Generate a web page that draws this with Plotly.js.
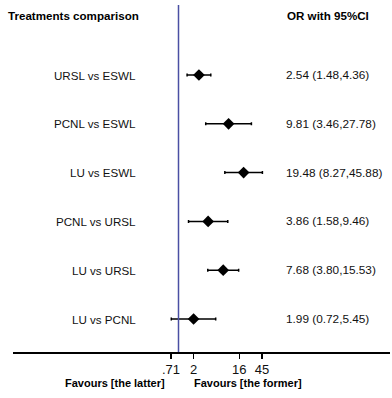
<!DOCTYPE html>
<html>
<head>
<meta charset="utf-8">
<script src="https://cdn.plot.ly/plotly-3.0.1.min.js"></script>
<style>html,body{margin:0;padding:0;background:#fff;}#chart{width:392px;height:398px;}</style>
</head>
<body>
<div id="chart"></div>
<script>
const comparisons = ["URSL vs ESWL","PCNL vs ESWL","LU vs ESWL","PCNL vs URSL","LU vs URSL","LU vs PCNL"];
const oddsRatio = [2.54, 9.81, 19.48, 3.86, 7.68, 1.99];
const ciLower = [1.48, 3.46, 8.27, 1.58, 3.80, 0.72];
const ciUpper = [4.36, 27.78, 45.88, 9.46, 15.53, 5.45];
const tickValues = [0.71, 2, 16, 45];
const tickLabels = [".71", "2", "16", "45"];

const rowPos = comparisons.map((_, i) => comparisons.length - i);
const f2 = v => v.toFixed(2);
const ciText = oddsRatio.map((v, i) => `${f2(v)} (${f2(ciLower[i])},${f2(ciUpper[i])})`);

const FONT = "Liberation Sans, Arial, sans-serif";
const ymin = 0.324, ymax = 7.435;

const trace = {
  type: "scatter", mode: "markers",
  x: oddsRatio, y: rowPos,
  marker: {symbol: "diamond", size: 9, color: "#000"},
  error_x: {
    type: "data", symmetric: false,
    array: oddsRatio.map((v, i) => ciUpper[i] - v),
    arrayminus: oddsRatio.map((v, i) => v - ciLower[i]),
    color: "#000", thickness: 1.5, width: 1.5
  },
  hoverinfo: "skip", showlegend: false
};

const annotations = [];
comparisons.forEach((c, i) => {
  annotations.push({xref: "paper", yref: "y", x: 0.3316, y: rowPos[i], text: c, showarrow: false,
    xanchor: "right", yanchor: "middle", font: {family: FONT, size: 11.6, color: "#111"}});
  annotations.push({xref: "paper", yref: "y", x: 0.7188, y: rowPos[i], text: ciText[i], showarrow: false,
    xanchor: "left", yanchor: "middle", font: {family: FONT, size: 11.8, color: "#111"}});
});
annotations.push({xref: "paper", yref: "y", x: -0.0186, y: 7.23, text: "<b>Treatments comparison</b>", showarrow: false,
  xanchor: "left", yanchor: "middle", font: {family: FONT, size: 11.6, color: "#000"}});
annotations.push({xref: "paper", yref: "y", x: 0.7215, y: 7.23, text: "<b>OR with 95%CI</b>", showarrow: false,
  xanchor: "left", yanchor: "middle", font: {family: FONT, size: 11.6, color: "#000"}});
annotations.push({xref: "paper", yref: "paper", x: (115-13)/377, y: -31/347, text: "<b>Favours [the latter]</b>", showarrow: false,
  xanchor: "center", yanchor: "middle", font: {family: FONT, size: 11, color: "#000"}});
annotations.push({xref: "paper", yref: "paper", x: (248-13)/377, y: -31/347, text: "<b>Favours [the former]</b>", showarrow: false,
  xanchor: "center", yanchor: "middle", font: {family: FONT, size: 11, color: "#000"}});

const layout = {
  width: 392, height: 398,
  margin: {l: 13, r: 2, t: 5, b: 46},
  paper_bgcolor: "#fff", plot_bgcolor: "#fff",
  xaxis: {
    type: "log", range: [-3.277, 4.188],
    tickvals: tickValues, ticktext: tickLabels,
    ticks: "outside", ticklen: 5, tickwidth: 1.2, tickcolor: "#000",
    showline: true, linecolor: "#000", linewidth: 1.5,
    showgrid: false, zeroline: false,
    tickfont: {family: FONT, size: 13, color: "#111"}
  },
  yaxis: {range: [ymin, ymax], visible: false, showgrid: false, zeroline: false},
  shapes: [{type: "line", xref: "x", yref: "paper", x0: 1, x1: 1, y0: 0, y1: 1,
    line: {color: "#4a4fa3", width: 1.5}}],
  annotations: annotations
};

Plotly.newPlot("chart", [trace], layout, {displayModeBar: false, staticPlot: true});
</script>
</body>
</html>
